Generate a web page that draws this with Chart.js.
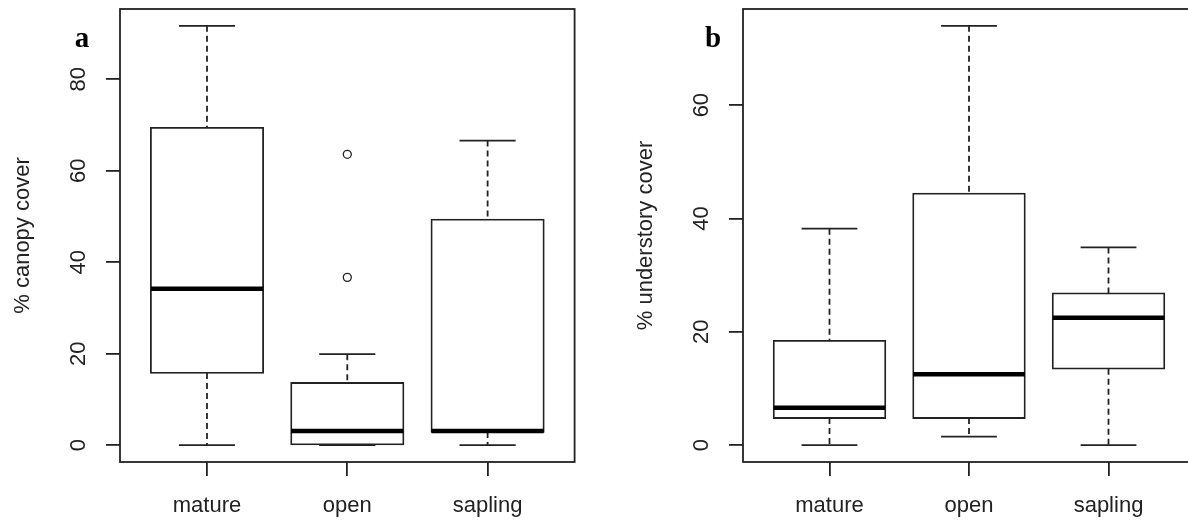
<!DOCTYPE html>
<html>
<head>
<meta charset="utf-8">
<title>Canopy and understory cover</title>
<script src="https://cdn.jsdelivr.net/npm/chart.js@4/dist/chart.umd.min.js"></script>
<style>
  html, body {
    margin: 0;
    padding: 0;
    background: #fff;
  }
  body {
    position: relative;
    width: 1188px;
    height: 521px;
    overflow: hidden;
  }
  canvas {
    position: absolute;
    top: 0;
  }
  #canopy-chart { left: 0; }
  #understory-chart { left: 623px; }
</style>
</head>
<body>
<canvas id="canopy-chart" width="600" height="521"></canvas>
<canvas id="understory-chart" width="600" height="521"></canvas>

<script>
// Stand types (x axis)
const groups = ['mature', 'open', 'sapling'];

// Panel a: % canopy cover, five-number summaries per stand type
const canopyLow = [0, 0, 0];
const canopyQ1 = [15.8, 0, 2.9];
const canopyMedian = [34.2, 3.1, 3.1];
const canopyQ3 = [69.4, 13.6, 49.3];
const canopyHigh = [91.7, 19.9, 66.6];
const canopyOutlierGroup = [2, 2];
const canopyOutlierValue = [63.6, 36.7];
const canopyTicks = [0, 20, 40, 60, 80];

// Panel b: % understory cover
const understoryLow = [0, 1.5, 0];
const understoryQ1 = [4.8, 4.8, 13.5];
const understoryMedian = [6.6, 12.5, 22.5];
const understoryQ3 = [18.4, 44.4, 26.8];
const understoryHigh = [38.2, 74.0, 34.9];
const understoryOutlierGroup = [];
const understoryOutlierValue = [];
const understoryTicks = [0, 20, 40, 60];

const INK = '#222';
const FONT = 'Liberation Sans, Arial, sans-serif';
const LINE = 1.8;

/**
 * Whiskers, caps, medians, frame and panel letter
 */
function boxWhiskerPlugin(stats) {
  return {
    id: 'boxWhiskers',
    afterDatasetsDraw(chart) {
      const { ctx, chartArea, scales: { x, y } } = chart;
      const boxes = chart.getDatasetMeta(0).data;

      const seg = (x1, y1, x2, y2) => {
        ctx.beginPath();
        ctx.moveTo(x1, y1);
        ctx.lineTo(x2, y2);
        ctx.stroke();
      };

      ctx.save();
      ctx.strokeStyle = INK;
      ctx.lineCap = 'butt';

      stats.median.forEach((m, i) => {
        const cx = x.getPixelForValue(i + 1);
        const half = boxes[i].width / 2;
        const yLow = y.getPixelForValue(stats.low[i]);
        const yQ1 = y.getPixelForValue(stats.q1[i]);
        const yQ3 = y.getPixelForValue(stats.q3[i]);
        const yHigh = y.getPixelForValue(stats.high[i]);

        // dashed whiskers
        ctx.lineWidth = LINE;
        ctx.setLineDash([6, 4]);
        if (yHigh < yQ3) seg(cx, yHigh, cx, yQ3);
        if (yLow > yQ1) seg(cx, yQ1, cx, yLow);
        ctx.setLineDash([]);

        // caps, half the box width
        seg(cx - half / 2, yHigh, cx + half / 2, yHigh);
        seg(cx - half / 2, yLow, cx + half / 2, yLow);

        // median
        const yMed = y.getPixelForValue(m);
        ctx.lineWidth = 4.5;
        ctx.strokeStyle = '#000';
        seg(cx - half, yMed, cx + half, yMed);
        ctx.strokeStyle = INK;
      });

      // plot frame
      ctx.lineWidth = LINE;
      ctx.strokeRect(chartArea.left, chartArea.top,
        chartArea.right - chartArea.left, chartArea.bottom - chartArea.top);

      // panel letter
      ctx.fillStyle = '#000';
      ctx.font = 'bold 29px "Liberation Serif", "Times New Roman", serif';
      ctx.textAlign = 'center';
      ctx.textBaseline = 'alphabetic';
      ctx.fillText(stats.letter, stats.letterX, 47);

      ctx.restore();
    },
  };
}

/**
 * Build one boxplot panel
 */
function makePanel(canvasId, stats) {
  const ctx = document.getElementById(canvasId).getContext('2d');

  // axis range padded by 4% like base R graphics
  const all = stats.low.concat(stats.high, stats.outlierValue);
  const lo = Math.min(...all);
  const hi = Math.max(...all);
  const pad = (hi - lo) * 0.04;

  return new Chart(ctx, {
    type: 'bar',
    data: {
      datasets: [
        {
          label: 'box',
          data: groups.map((g, i) => ({ x: i + 1, y: [stats.q1[i], stats.q3[i]] })),
          backgroundColor: '#fff',
          borderColor: INK,
          borderWidth: LINE,
          borderSkipped: false,
          // centre the outline on the quartile values
          inflateAmount: LINE / 2,
          categoryPercentage: 0.8,
          barPercentage: 1,
        },
        {
          type: 'scatter',
          label: 'outliers',
          data: stats.outlierGroup.map((g, k) => ({ x: g, y: stats.outlierValue[k] })),
          pointRadius: 4,
          pointBorderWidth: 1.3,
          pointBorderColor: INK,
          pointBackgroundColor: 'rgba(0,0,0,0)',
        },
      ],
    },
    options: {
      responsive: false,
      animation: false,
      layout: {
        padding: { top: 9, right: stats.padRight, left: 0, bottom: 0 },
      },
      plugins: {
        legend: { display: false },
        tooltip: { enabled: false },
      },
      scales: {
        x: {
          type: 'linear',
          min: 0.38,
          max: 3.62,
          offset: false,
          afterBuildTicks: (scale) => {
            scale.ticks = groups.map((g, i) => ({ value: i + 1 }));
          },
          afterFit: (scale) => {
            scale.height = 59;
            scale.paddingLeft = 0;
            scale.paddingRight = 0;
          },
          grid: {
            display: true,
            offset: false,
            drawOnChartArea: false,
            drawTicks: true,
            tickLength: 14,
            color: INK,
            lineWidth: LINE,
          },
          border: { display: false },
          ticks: {
            callback: (value) => groups[Math.round(value) - 1],
            font: { family: FONT, size: 22 },
            color: INK,
            padding: 17,
            maxRotation: 0,
          },
        },
        y: {
          type: 'linear',
          min: lo - pad,
          max: hi + pad,
          afterBuildTicks: (scale) => {
            scale.ticks = stats.ticks.map(v => ({ value: v }));
          },
          afterFit: (scale) => {
            scale.width = 120;
            scale.paddingTop = 0;
            scale.paddingBottom = 0;
          },
          grid: {
            display: true,
            drawOnChartArea: false,
            drawTicks: true,
            tickLength: 14,
            color: INK,
            lineWidth: LINE,
          },
          border: { display: false },
          ticks: {
            font: { family: FONT, size: 22 },
            color: INK,
            padding: 15,
            minRotation: 90,
            maxRotation: 90,
            crossAlign: 'center',
          },
          title: {
            display: true,
            text: stats.title,
            font: { family: FONT, size: 22 },
            color: INK,
            padding: { top: 10, bottom: 0 },
          },
        },
      },
    },
    plugins: [boxWhiskerPlugin(stats)],
  });
}

makePanel('canopy-chart', {
  low: canopyLow,
  q1: canopyQ1,
  median: canopyMedian,
  q3: canopyQ3,
  high: canopyHigh,
  outlierGroup: canopyOutlierGroup,
  outlierValue: canopyOutlierValue,
  ticks: canopyTicks,
  title: '% canopy cover',
  letter: 'a',
  letterX: 82,
  padRight: 25.4,
});

makePanel('understory-chart', {
  low: understoryLow,
  q1: understoryQ1,
  median: understoryMedian,
  q3: understoryQ3,
  high: understoryHigh,
  outlierGroup: understoryOutlierGroup,
  outlierValue: understoryOutlierValue,
  ticks: understoryTicks,
  title: '% understory cover',
  letter: 'b',
  letterX: 90,
  padRight: 28,
});
</script>
</body>
</html>
